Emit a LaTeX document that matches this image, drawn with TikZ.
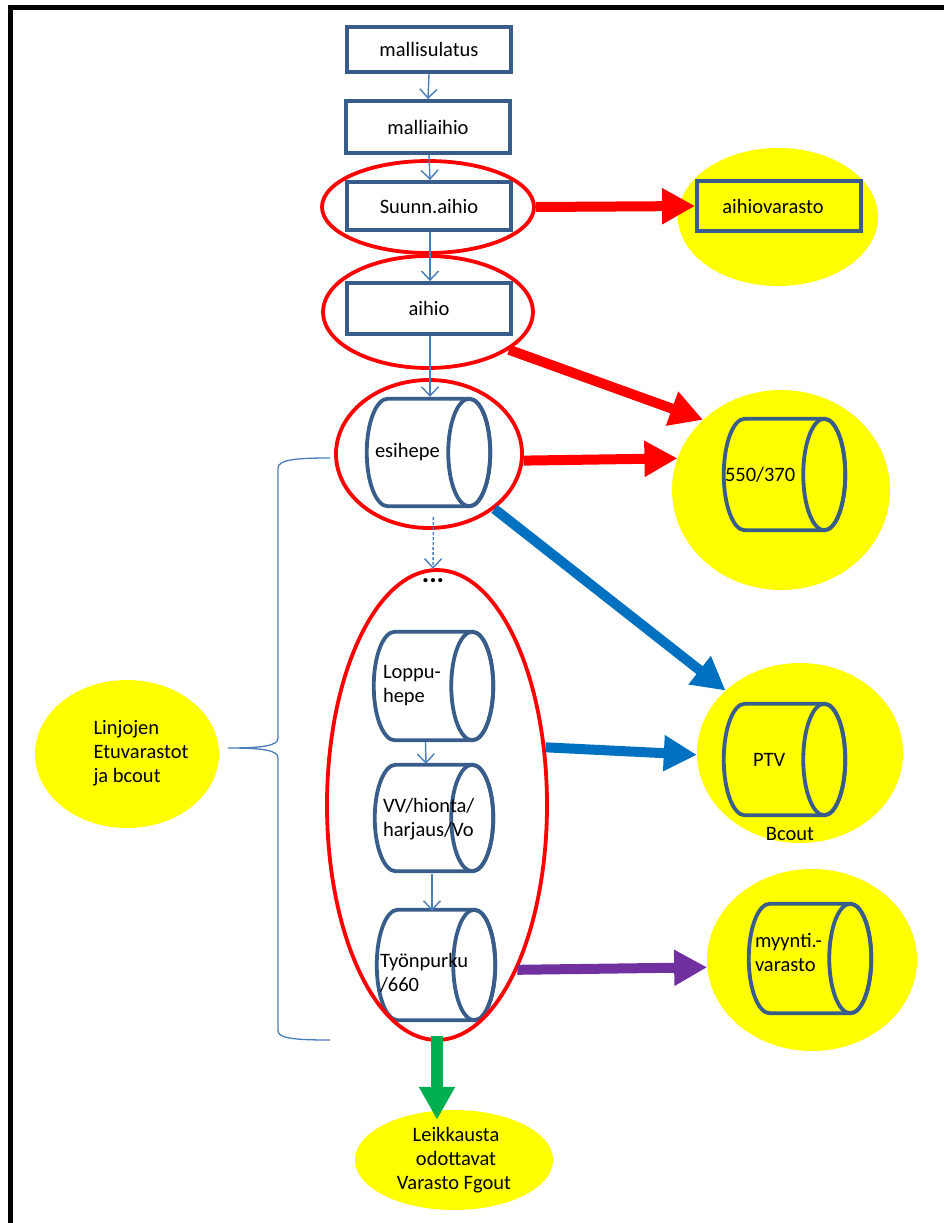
\documentclass[tikz,border=0pt]{standalone}
\usepackage{fontspec}
\setmainfont{Carlito}
\usetikzlibrary{shapes.geometric,arrows.meta}

\definecolor{boxblue}{HTML}{385D8A}
\definecolor{thinblue}{HTML}{4A7EBB}
\definecolor{flowred}{HTML}{FF0000}
\definecolor{flowblue}{HTML}{0070C0}
\definecolor{flowpurple}{HTML}{7030A0}
\definecolor{flowgreen}{HTML}{00B050}
\definecolor{storeyellow}{HTML}{FFFF00}

% horizontal cylinder between outer corners (x1,y1) and (x2,y2), image-style y downwards
\newcommand\cylinderat[5]{%
  \pgfmathsetmacro\cylxa{#1+1.75}\pgfmathsetmacro\cylya{#2+1.75}%
  \pgfmathsetmacro\cylxb{#3-1.75}\pgfmathsetmacro\cylyb{#4-1.75}%
  \pgfmathsetmacro\cylry{(\cylyb-\cylya)/2}\pgfmathsetmacro\cylym{(\cylya+\cylyb)/2}%
  \filldraw[cylline, fill=#5] (\cylxa+21,-\cylya) -- (\cylxb-21,-\cylya)
    arc[start angle=90, end angle=-90, x radius=21, y radius=\cylry]
    -- (\cylxa+21,-\cylyb)
    arc[start angle=270, end angle=90, x radius=21, y radius=\cylry] -- cycle;
  \draw[cylline] (\cylxb-21,-\cylym) ellipse[x radius=21, y radius=\cylry];
}

\begin{document}
\begin{tikzpicture}[x=1pt, y=1pt,
  txt/.style={font=\fontsize{20.5}{24}\selectfont, text=black},
  procbox/.style={txt, rectangle, draw=boxblue, line width=3.8pt, fill=white,
    minimum width=164pt, inner sep=0pt},
  cylline/.style={draw=boxblue, line width=3.8pt},
  cyltext/.style={txt, rectangle, inner ysep=0pt, align=left},
  ring/.style={ellipse, draw=flowred, line width=3.8pt, inner sep=0pt},
  store/.style={txt, ellipse, fill=storeyellow, inner sep=0pt},
  thinarr/.style={draw=thinblue, line width=1.4pt, -{Straight Barb[length=9pt,width=17pt]}},
  fatarr/.style={line width=10pt, -{Triangle[length=33pt,width=34pt]}}
]
\useasboundingbox (0,0) rectangle (944,-1223);

% frame
\draw[line width=5pt, black] (10,-1223) -- (10,-8) -- (944,-8);

% yellow stores
\node[store, minimum width=200pt, minimum height=138pt] (varell) at (778,-217) {};
\node[store, minimum width=218pt, minimum height=200pt] (ell550) at (781,-490) {};
\node[store, minimum width=206pt, minimum height=180pt] (ptvell) at (800,-753) {};
\node[store, minimum width=210pt, minimum height=182pt] (myyell) at (812,-960) {};
\node[store, minimum width=184pt, minimum height=148pt] (linj) at (127,-754)
  {\hspace*{28pt}\begin{tabular}{@{}l@{}}Linjojen\\Etuvarastot\\ja bcout\end{tabular}};
\node[store, minimum width=198pt, minimum height=100pt, align=center] (leik) at (454,-1160)
  {\hspace*{4pt}Leikkausta\\\hspace*{4pt}odottavat\\Varasto Fgout};

% process boxes
\node[procbox, minimum height=45pt] (malli) at (429,-49.5) {mallisulatus};
\node[procbox, minimum height=52pt] (malliaihio) at (428,-127) {\raisebox{-6pt}{malliaihio}};
\node[procbox, minimum height=48pt] (suunn) at (429,-206) {Suunn.aihio};
\node[procbox, minimum height=51pt] (aihio) at (429,-308.5) {aihio};
\node[procbox, fill=none, minimum height=50pt] (varbox) at (779,-206) {\hspace*{-12pt}aihiovarasto};

% cylinders
\cylinderat{365}{397}{492}{508}{white}
\cylinderat{372}{630}{495}{742}{white}
\cylinderat{373}{763}{495}{873}{white}
\cylinderat{375}{908}{497}{1022}{white}
\cylinderat{722}{417}{847}{532}{none}
\cylinderat{722}{702}{847}{817}{none}
\cylinderat{747}{902}{873}{1015}{none}

\node[cyltext, minimum width=127pt, minimum height=111pt, inner xsep=10pt, text width=107pt] (esihepe) at (428.5,-452.5) {esihepe};
\node[cyltext, minimum width=123pt, minimum height=112pt, inner xsep=11pt, text width=101pt] (loppu) at (433.5,-686) {Loppu-\\hepe};
\node[cyltext, minimum width=122pt, minimum height=110pt, inner xsep=10pt, text width=102pt] (vv) at (434,-819) {VV/hionta/\\harjaus/Vo};
\node[cyltext, minimum width=122pt, minimum height=114pt, inner xsep=5pt, text width=112pt] (tyon) at (436,-973) {Työnpurku\\/660};
\node[cyltext, minimum width=125pt, minimum height=115pt, inner xsep=3pt, text width=119pt] (c550) at (784.5,-474.5) {550/370};
\node[cyltext, minimum width=125pt, minimum height=115pt, inner xsep=31pt, text width=63pt] (ptv) at (784.5,-759.5) {PTV};
\node[cyltext, minimum width=126pt, minimum height=113pt, inner xsep=8pt, text width=110pt] (myynti) at (810,-952) {myynti.-\\varasto};
\node[txt] (bcout) at (790,-834) {Bcout};

% red rings around stages
\node[ring, minimum width=212pt, minimum height=92pt] (suunnell) at (428,-207) {};
\node[ring, minimum width=210pt, minimum height=112pt] (aihioell) at (428,-312) {};
\node[ring, minimum width=186pt, minimum height=148pt] (esiell) at (429,-454) {};
\node[ring, minimum width=220pt, minimum height=470pt] (bigell) at (437,-805) {};
\node[txt, font=\fontsize{28}{30}\selectfont\bfseries, inner sep=0pt] (dots) at (433,-581) {...};

% thin flow arrows
\draw[thinarr] (malli.south) -- (malliaihio.north);
\draw[thinarr] ([xshift=1pt]malliaihio.south) -- ([xshift=1pt]suunn.north);
\draw[thinarr] ([xshift=1pt]suunn.south) -- ([xshift=1pt]aihio.north);
\draw[thinarr] ([xshift=1pt]aihio.south) -- ([xshift=1.5pt]esihepe.north);
\draw[thinarr, dash pattern=on 3pt off 2pt, shorten <=9pt] ([xshift=5pt]esihepe.south) -- ([yshift=10pt]dots.north);
\draw[thinarr] ([xshift=-8pt]loppu.south) -- ([xshift=-8pt]vv.north);
\draw[thinarr] ([xshift=-2pt]vv.south) -- ([xshift=-4pt,yshift=5pt]tyon.north);

% transfers to stores
\draw[fatarr, flowred] (suunnell.east) -- (varbox.west);
\draw[fatarr, flowred] (aihioell.-25) -- (ell550.138);
\draw[fatarr, flowred] (esiell.-4) -- (ell550.163);
\draw[fatarr, flowblue] (esiell.-40) -- (ptvell.140);
\draw[fatarr, flowblue] (bigell.28) -- (ptvell.181);
\draw[fatarr, flowpurple] (bigell.-64) -- (myyell.184);
\draw[fatarr, flowgreen, line width=12pt] ([yshift=6pt]bigell.south) -- ([yshift=-10pt]leik.north -| bigell.south);

% brace gathering the line buffers
\draw[thinblue, line width=1.3pt] (330,-458) .. controls (300,-458) and (278,-459) .. (278,-468)
  -- (278,-738) .. controls (278,-746) and (262,-748) .. (228,-748)
  .. controls (262,-748) and (278,-750) .. (278,-758)
  -- (278,-1031) .. controls (278,-1039) and (300,-1040) .. (330,-1040);
\end{tikzpicture}
\end{document}
